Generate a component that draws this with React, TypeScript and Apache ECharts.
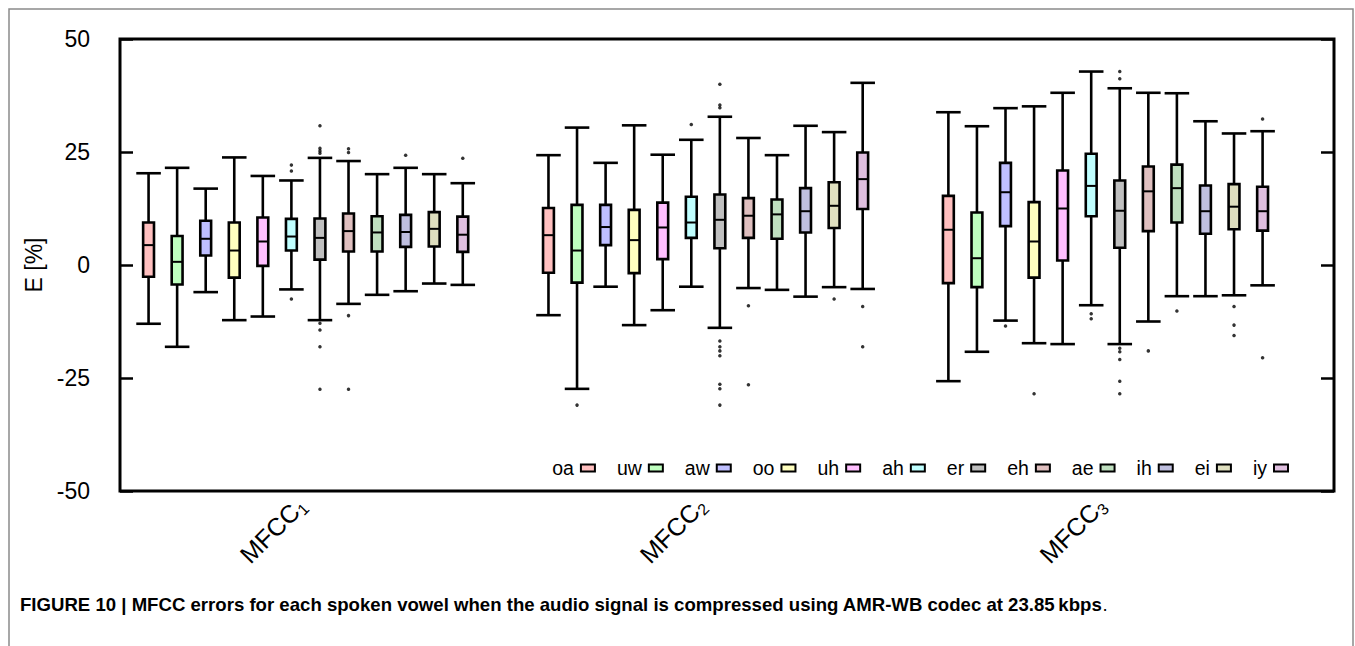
import React, { useEffect, useRef } from "react";
import * as echarts from "echarts";

const FONT = "'Liberation Sans', Arial, Helvetica, sans-serif";

const vowels = ["oa", "uw", "aw", "oo", "uh", "ah", "er", "eh", "ae", "ih", "ei", "iy"];
const colors = [
  "#ffbfbf", "#bfffbf", "#bfbfff", "#ffffbf", "#ffbfff", "#bfffff",
  "#bfbfbf", "#dfbfbf", "#bfdfbf", "#bfbfdf", "#dfdfbf", "#dfbfdf",
];
const groupLabels = ["1", "2", "3"];
const groupCenters = [6.5, 20.5, 34.5];
const groupStarts = [1, 15, 29];

// [min, q1, median, q3, max] per vowel
const mfcc1Stats = [
  [-13.0, -2.6, 4.4, 9.4, 20.3],
  [-18.1, -4.3, 0.7, 6.4, 21.5],
  [-6.0, 2.1, 5.8, 9.8, 16.9],
  [-12.2, -2.8, 3.2, 9.4, 23.8],
  [-11.4, -0.2, 5.2, 10.5, 19.7],
  [-5.4, 3.2, 6.3, 10.2, 18.7],
  [-12.2, 1.2, 6.0, 10.3, 23.7],
  [-8.6, 3.0, 7.5, 11.4, 23.0],
  [-6.6, 3.0, 7.2, 10.8, 20.1],
  [-5.8, 4.0, 7.3, 11.1, 21.5],
  [-4.1, 4.1, 8.0, 11.7, 20.1],
  [-4.4, 2.9, 6.7, 10.7, 18.1],
];
const mfcc2Stats = [
  [-11.1, -1.7, 6.6, 12.6, 24.3],
  [-27.4, -3.9, 3.2, 13.3, 30.4],
  [-4.8, 4.4, 8.4, 13.3, 22.6],
  [-13.3, -1.8, 5.5, 12.2, 30.9],
  [-10.0, 1.3, 8.3, 13.8, 24.4],
  [-4.8, 6.0, 9.4, 15.1, 27.7],
  [-13.9, 3.7, 10.0, 15.6, 32.8],
  [-5.1, 6.0, 10.9, 14.8, 28.1],
  [-5.5, 5.8, 11.2, 14.5, 24.3],
  [-7.0, 7.2, 11.9, 17.0, 30.8],
  [-4.9, 8.2, 13.1, 18.3, 29.4],
  [-5.3, 12.4, 19.0, 24.9, 40.3],
];
const mfcc3Stats = [
  [-25.7, -4.0, 7.8, 15.3, 33.8],
  [-19.2, -4.9, 1.5, 11.6, 30.7],
  [-12.3, 8.6, 16.1, 22.6, 34.7],
  [-17.3, -2.8, 5.2, 13.9, 35.1],
  [-17.5, 1.0, 12.5, 20.9, 38.1],
  [-8.9, 10.8, 17.5, 24.6, 42.8],
  [-17.5, 3.8, 12.0, 18.7, 39.1],
  [-12.5, 7.5, 16.3, 21.8, 38.1],
  [-6.9, 9.4, 17.0, 22.2, 38.0],
  [-6.9, 6.9, 11.9, 17.6, 31.8],
  [-6.7, 7.9, 12.9, 17.9, 29.1],
  [-4.5, 7.6, 11.9, 17.3, 29.6],
];

// [vowel index, value]
const mfcc1Outliers = [
  [5, 22.1], [5, 20.8], [5, -7.5],
  [6, 30.8], [6, 25.8], [6, 25.2], [6, 24.7], [6, -12.9], [6, -14.4], [6, -18.1], [6, -27.5],
  [7, 25.7], [7, 24.9], [7, -11.2], [7, -27.5],
  [9, 24.3], [11, 23.6],
];
const mfcc2Outliers = [
  [1, -31.0], [5, 31.1],
  [6, 40.0], [6, 35.4], [6, 34.8], [6, -16.8], [6, -18.1], [6, -19.0], [6, -20.1], [6, -26.4], [6, -27.4], [6, -31.0],
  [7, -9.0], [7, -26.5], [10, -7.5], [11, -9.2], [11, -18.1],
];
const mfcc3Outliers = [
  [2, -13.5], [3, -28.5], [5, -10.8], [5, -11.9],
  [6, 42.8], [6, 41.2], [6, -18.4], [6, -19.2], [6, -20.9], [6, -25.7], [6, -28.5],
  [7, -19.0], [8, -10.2], [10, -9.2], [10, -13.3], [10, -15.6], [11, 32.3], [11, -20.5],
];

const allStats = [mfcc1Stats, mfcc2Stats, mfcc3Stats];
const allOutliers = [mfcc1Outliers, mfcc2Outliers, mfcc3Outliers];

export default function App() {
  const ref = useRef<HTMLDivElement>(null);
  useEffect(() => {
    if (!ref.current) return;
    const chart = echarts.init(ref.current, undefined, { renderer: "svg" });

    const boxSeries = vowels.map((name, vi) => {
      const color = colors[vi];
      const data = allStats.map((stats, gi) => [groupStarts[gi] + vi, ...stats[vi]]);
      return {
        name,
        type: "custom",
        itemStyle: { color, borderColor: "#000", borderWidth: 2 },
        encode: { x: 0, y: [1, 2, 3, 4, 5] },
        data,
        z: 3,
        renderItem: (params: any, api: any) => {
          const x = api.value(0);
          const pMin = api.coord([x, api.value(1)]);
          const pQ1 = api.coord([x, api.value(2)]);
          const pMed = api.coord([x, api.value(3)]);
          const pQ3 = api.coord([x, api.value(4)]);
          const pMax = api.coord([x, api.value(5)]);
          const unit = api.size([1, 0])[0];
          const bw = unit * 0.38;
          const cw = unit * 0.86;
          const cx = pMed[0];
          const ls = { stroke: "#000", lineWidth: 2.6 };
          return {
            type: "group",
            children: [
              { type: "line", shape: { x1: cx, y1: pMax[1], x2: cx, y2: pQ3[1] }, style: ls },
              { type: "line", shape: { x1: cx, y1: pQ1[1], x2: cx, y2: pMin[1] }, style: ls },
              { type: "line", shape: { x1: cx - cw / 2, y1: pMax[1], x2: cx + cw / 2, y2: pMax[1] }, style: ls },
              { type: "line", shape: { x1: cx - cw / 2, y1: pMin[1], x2: cx + cw / 2, y2: pMin[1] }, style: ls },
              {
                type: "rect",
                shape: { x: cx - bw / 2, y: pQ3[1], width: bw, height: pQ1[1] - pQ3[1] },
                style: { fill: color, stroke: "#000", lineWidth: 2.6 },
              },
              { type: "line", shape: { x1: cx - bw / 2, y1: pMed[1], x2: cx + bw / 2, y2: pMed[1] }, style: { stroke: "#000", lineWidth: 2 } },
            ],
          };
        },
      };
    });

    const outlierData: number[][] = [];
    allOutliers.forEach((list, gi) => {
      list.forEach(([vi, v]) => outlierData.push([groupStarts[gi] + vi, v]));
    });

    const option: any = {
      animation: false,
      backgroundColor: "#fff",
      grid: { left: 120, right: 21, top: 39, bottom: 155, show: true, borderColor: "#000", borderWidth: 3, backgroundColor: "transparent" },
      legend: {
        data: vowels,
        right: 61,
        top: 453,
        align: "right",
        icon: "rect",
        itemWidth: 14,
        itemHeight: 7,
        itemGap: 21,
        itemStyle: { borderColor: "#000", borderWidth: 2 },
        textStyle: { fontFamily: FONT, fontSize: 19.5, color: "#000", width: 22, align: "right", padding: [0, 2, 0, 0] },
      },
      xAxis: {
        type: "value",
        min: 0,
        max: 42.5,
        axisLine: { show: false },
        axisTick: { show: false },
        splitLine: { show: false },
        axisLabel: {
          customValues: groupCenters,
          rotate: 45,
          margin: 6,
          formatter: (v: number) => {
            const i = groupCenters.indexOf(v);
            return i >= 0 ? `{m|MFCC}{s|${groupLabels[i]}}` : "";
          },
          rich: {
            m: { fontFamily: FONT, fontSize: 25, color: "#000", lineHeight: 30 },
            s: { fontFamily: FONT, fontSize: 16, color: "#000", lineHeight: 15, verticalAlign: "bottom", padding: [0, 6, 0, 0] },
          },
        },
      },
      yAxis: [
        {
          type: "value",
          min: -50,
          max: 50,
          interval: 25,
          position: "left",
          name: "E [%]",
          nameLocation: "middle",
          nameGap: 63,
          nameRotate: 90,
          nameTextStyle: { fontFamily: FONT, fontSize: 23, color: "#000" },
          axisLine: { show: false },
          axisTick: { show: true, inside: true, length: 13, lineStyle: { color: "#000", width: 2.5 } },
          splitLine: { show: false },
          axisLabel: { fontFamily: FONT, fontSize: 23, color: "#000", margin: 30 },
        },
        {
          type: "value",
          min: -50,
          max: 50,
          interval: 25,
          position: "right",
          axisLine: { show: false },
          axisTick: { show: true, inside: true, length: 13, lineStyle: { color: "#000", width: 2.5 } },
          splitLine: { show: false },
          axisLabel: { show: false },
        },
      ],
      graphic: [
        {
          type: "rect",
          shape: { x: 9, y: 9, width: 1344, height: 700 },
          style: { fill: "none", stroke: "#8a8a8a", lineWidth: 1.5 },
          silent: true,
        },
        {
          type: "text",
          left: 20,
          top: 595,
          style: {
            text: "{b|FIGURE 10 | MFCC errors for each spoken vowel when the audio signal is compressed using AMR-WB codec at 23.85\u2009kbps}{n|.}",
            rich: {
              b: { fontFamily: FONT, fontSize: 18.6, fontWeight: "bold", fill: "#000" },
              n: { fontFamily: FONT, fontSize: 18.6, fill: "#000" },
            },
          },
        },
      ],
      series: [
        ...boxSeries,
        {
          name: "outliers",
          type: "scatter",
          data: outlierData,
          symbol: "circle",
          symbolSize: 3.5,
          itemStyle: { color: "#000" },
          z: 4,
        },
      ],
    };
    chart.setOption(option);
    return () => chart.dispose();
  }, []);
  return <div ref={ref} style={{ position: "fixed", left: 0, top: 0, width: 1355, height: 646 }} />;
}
